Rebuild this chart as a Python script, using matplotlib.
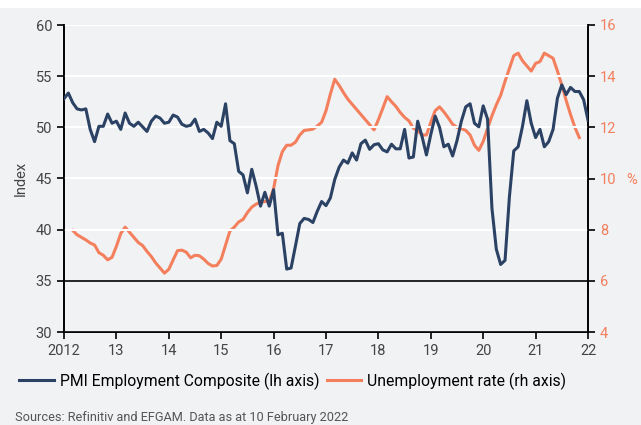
import numpy as np
import matplotlib
matplotlib.use("Agg")
import matplotlib.pyplot as plt
from matplotlib.patches import Rectangle
from matplotlib.lines import Line2D

plt.rcParams['font.family'] = ['Roboto', 'DejaVu Sans']

# monthly, Jan 2012 .. Jan 2022
pmi = [52.8, 53.35, 52.4, 51.8, 51.7, 51.8, 49.8, 48.6, 50.1, 50.1, 51.3, 50.4,
       50.6, 49.8, 51.4, 50.4, 50.1, 50.5, 50.05, 49.6, 50.6, 51.1, 50.9, 50.4,
       50.5, 51.2, 51.0, 50.3, 50.1, 50.2, 50.8, 49.6, 49.8, 49.45, 48.9, 50.5,
       50.1, 52.3, 48.7, 48.4, 45.7, 45.35, 43.6, 45.9, 44.25, 42.3, 43.65, 42.3,
       43.9, 39.5, 39.65, 36.15, 36.25, 38.4, 40.6, 41.1, 41.0, 40.7, 41.8, 42.75,
       42.35, 43.1, 44.9, 46.1, 46.8, 46.5, 47.5, 46.8, 48.4, 48.75, 47.85, 48.3,
       48.4, 47.8, 47.6, 48.35, 47.9, 47.9, 49.8, 47.0, 47.1, 50.6, 49.1, 47.3,
       49.3, 51.1, 50.0, 48.1, 48.35, 47.2, 48.7, 50.6, 52.0, 52.3, 50.4, 50.05,
       52.1, 50.8, 42.1, 38.1, 36.6, 37.0, 43.2, 47.7, 48.1, 50.1, 52.6, 50.4,
       49.0, 49.8, 48.1, 48.6, 49.8, 52.85, 54.15, 53.2, 53.9, 53.5, 53.5, 52.7,
       50.7]

# monthly, Mar 2012 .. Nov 2021
unemp = [7.97, 7.8, 7.7, 7.6, 7.48, 7.4, 7.1, 7.0, 6.82, 6.92,
         7.35, 7.85, 8.1, 7.9, 7.7, 7.5, 7.38, 7.15, 6.95, 6.7, 6.5, 6.3,
         6.45, 6.82, 7.18, 7.2, 7.12, 6.9, 7.0, 6.98, 6.85, 6.68, 6.58, 6.6,
         6.85, 7.4, 7.95, 8.1, 8.3, 8.4, 8.67, 8.88, 9.0, 9.07, 9.1, 9.1,
         9.6, 10.5, 11.05, 11.3, 11.3, 11.42, 11.7, 11.88, 11.9, 11.93, 12.05, 12.2,
         12.65, 13.3, 13.88, 13.64, 13.36, 13.1, 12.9, 12.7, 12.5, 12.3, 12.1, 11.9,
         12.3, 12.74, 13.2, 13.0, 12.82, 12.58, 12.39, 12.25, 11.97, 11.87, 11.7, 11.7,
         12.2, 12.65, 12.8, 12.6, 12.37, 12.12, 12.0, 11.95, 11.88, 11.7, 11.3, 11.1,
         11.45, 11.96, 12.45, 12.88, 13.25, 13.8, 14.3, 14.8, 14.9, 14.6, 14.4, 14.2,
         14.5, 14.57, 14.9, 14.8, 14.7, 14.2, 13.65, 13.05, 12.5, 12.0, 11.6]

years = list(range(2012, 2023))
year_labels = ['2012'] + [str(y)[2:] for y in years[1:]]

navy = '#2b4264'
orange = '#f47f5d'
bg = '#f1f2f4'

x_pmi = 2012 + np.arange(len(pmi)) / 12
x_un = 2012 + (2 + np.arange(len(unemp))) / 12

fig = plt.figure(figsize=(6.41, 4.25), dpi=100, facecolor=bg)
# thin white strip along the top edge
fig.patches.append(Rectangle((0, 1 - 8 / 425), 1, 8 / 425, transform=fig.transFigure,
                             facecolor='white', edgecolor='none', zorder=-1))
ax = fig.add_axes([64 / 641, 1 - 332 / 425, 524 / 641, 307 / 425])
ax2 = ax.twinx()

ax.set_ylim(30, 60)
ax.set_yticks(range(30, 61, 5))
ax.set_xlim(2012, 2022)
ax.set_xticks(years)
ax.set_xticklabels(year_labels)
ax.grid(axis='y', color='white', lw=1.5)
ax.set_axisbelow(True)
ax.axhline(35, color='black', lw=1.2, zorder=2)

ax2.set_ylim(4, 16)
ax2.set_yticks(range(4, 17, 2))

for a in (ax, ax2):
    a.spines['top'].set_visible(False)
    for s in a.spines.values():
        s.set_linewidth(1.2)
    a.tick_params(length=5, width=1.2, labelsize=10.5, colors='black')
ax.tick_params(labelcolor='#444444')
ax2.tick_params(axis='y', labelcolor=orange)

ax2.plot(x_un, unemp, color=orange, lw=2.2, zorder=3)
ax.plot(x_pmi, pmi, color=navy, lw=2.2, zorder=4)

# pmi axes on top, background drawn by the twin
ax.set_zorder(ax2.get_zorder() + 1)
ax.patch.set_visible(False)
ax2.patch.set_visible(True)
ax2.patch.set_facecolor(bg)

ax.set_ylabel('Index', fontsize=10.5, color='#444444', labelpad=6)
fig.text(632 / 641, 1 - 180 / 425, '%', color=orange, fontsize=10.5,
         ha='center', va='center')

handles = [Line2D([], [], color=navy, lw=2.2), Line2D([], [], color=orange, lw=2.2)]
fig.legend(handles, ['PMI Employment Composite (lh axis)', 'Unemployment rate (rh axis)'],
           loc='center left', bbox_to_anchor=(0.008, 1 - 381 / 425), ncol=2, frameon=False,
           fontsize=11.3, handlelength=2.2, handletextpad=0.4, columnspacing=0.45)
fig.text(15 / 641, 1 - 417 / 425, 'Sources: Refinitiv and EFGAM. Data as at 10 February 2022',
         fontsize=9.2, color='#555555', va='center')

fig.savefig('out.png', dpi=100, facecolor=bg)
